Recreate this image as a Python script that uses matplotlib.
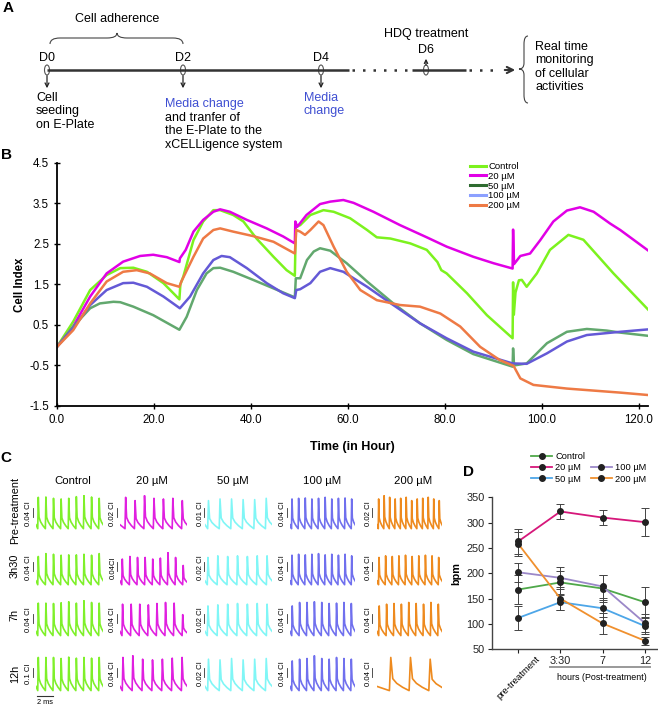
import matplotlib
matplotlib.use('Agg')
import matplotlib.pyplot as plt
from matplotlib.lines import Line2D
from matplotlib.patches import Ellipse, PathPatch
from matplotlib.path import Path

plt.rcParams['font.family'] = ['Liberation Sans', 'DejaVu Sans']

W, H = 658, 708

# ---------------- B: cell index (xCELLigence) ----------------
ctrl_h = [0, 3.4, 6.9, 10.3, 13.1, 15.8, 18.6, 22.0, 25.3, 25.5, 26.1, 28.2, 30.2, 32.3, 33.7, 36.4, 38.5,
          41.2, 44.7, 47.4, 49.1, 49.3, 50.2, 52.3, 55.0, 57.1, 60.5, 64.0, 66.0, 68.8, 72.9, 76.3, 78.5,
          79.3, 80.4, 84.6, 88.7, 94.0, 94.1, 94.25, 94.6, 95.3, 95.9, 96.9, 99.0, 101.7, 105.5, 108.6,
          114.8, 122.0]
ctrl_ci = [-0.05, 0.58, 1.36, 1.73, 1.9, 1.91, 1.81, 1.53, 1.13, 1.5, 1.69, 2.59, 3.05, 3.33, 3.33, 3.21, 3.05,
           2.63, 2.18, 1.85, 1.71, 2.92, 2.96, 3.21, 3.33, 3.29, 3.13, 2.84, 2.66, 2.63, 2.51, 2.35, 2.05,
           1.85, 1.77, 1.28, 0.74, 0.17, 1.55, 0.75, 1.3, 1.6, 1.61, 1.44, 1.77, 2.35, 2.72, 2.6,
           1.77, 0.87]

m20_h = [0, 3.4, 6.9, 10.3, 13.7, 17.2, 19.9, 22.7, 25.3, 25.4, 26.6, 28.2, 30.2, 32.3, 33.7, 35.7, 39.2,
         43.3, 46.7, 49.1, 49.2, 49.6, 51.5, 54.3, 56.4, 59.1, 61.2, 65.3, 70.8, 76.3, 80.4, 85.9, 90.1,
         94.0, 94.1, 94.3, 95.6, 97.6, 99.7, 102.4, 105.2, 107.9, 110.7, 114.1, 116.2, 122.0]
m20_ci = [-0.05, 0.46, 1.2, 1.77, 2.06, 2.2, 2.23, 2.17, 2.05, 2.14, 2.35, 2.8, 3.09, 3.29, 3.35, 3.29, 3.09,
          2.88, 2.68, 2.51, 3.05, 2.92, 3.21, 3.48, 3.54, 3.58, 3.51, 3.29, 2.96, 2.66, 2.43, 2.18, 2.02,
          1.89, 2.85, 2.0, 2.2, 2.26, 2.59, 3.05, 3.32, 3.4, 3.29, 3.0, 2.84, 2.33]

m50_h = [0, 3.4, 6.9, 8.9, 11.7, 13.1, 15.8, 19.9, 25.3, 26.8, 28.9, 30.9, 32.3, 33.7, 36.4, 40.5, 44.7,
         49.1, 49.3, 50.2, 51.6, 53.0, 54.3, 56.4, 59.8, 64.0, 69.4, 74.9, 80.4, 85.9, 94.0, 94.1, 94.3,
         96.9, 101.1, 105.2, 109.3, 113.4, 116.2, 122.0]
m50_ci = [-0.05, 0.46, 0.91, 1.03, 1.07, 1.06, 0.95, 0.74, 0.38, 0.7, 1.36, 1.77, 1.9, 1.91, 1.81, 1.61, 1.4,
          1.18, 1.65, 1.65, 2.1, 2.31, 2.39, 2.33, 2.02, 1.57, 1.03, 0.54, 0.13, -0.22, -0.53, -0.08, -0.5,
          -0.45, 0.05, 0.33, 0.4, 0.36, 0.31, 0.23]

m100_h = [0, 3.4, 6.9, 10.3, 13.7, 15.8, 18.6, 22.0, 25.4, 27.5, 30.2, 32.3, 34.0, 35.7, 39.2, 43.3, 46.7,
          49.1, 49.4, 50.2, 52.3, 54.3, 56.4, 59.1, 64.0, 69.4, 74.9, 80.4, 85.9, 94.0, 96.9, 101.1,
          105.2, 109.3, 116.2, 122.0]
m100_ci = [-0.05, 0.42, 0.99, 1.36, 1.53, 1.54, 1.44, 1.2, 0.91, 1.2, 1.77, 2.1, 2.2, 2.17, 1.9, 1.53, 1.28,
           1.16, 1.36, 1.38, 1.53, 1.81, 1.9, 1.81, 1.44, 0.99, 0.54, 0.17, -0.16, -0.45, -0.46, -0.2,
           0.09, 0.25, 0.33, 0.39]

m200_h = [0, 3.4, 6.9, 10.3, 13.7, 16.5, 19.2, 22.7, 25.3, 25.7, 28.2, 30.2, 32.3, 33.7, 36.4, 40.5, 44.7,
          49.1, 49.4, 50.2, 51.2, 52.3, 54.0, 55.0, 57.1, 59.8, 62.6, 66.0, 70.8, 74.9, 79.1, 83.2, 87.3,
          91.4, 94.2, 95.6, 98.3, 105.2, 116.2, 122.0]
m200_ci = [-0.05, 0.37, 1.03, 1.57, 1.81, 1.85, 1.77, 1.53, 1.44, 1.57, 2.18, 2.63, 2.84, 2.88, 2.8, 2.69, 2.55,
           2.26, 2.84, 2.8, 2.72, 2.84, 3.05, 2.96, 2.43, 1.81, 1.36, 1.11, 0.99, 0.95, 0.78, 0.46, -0.04,
           -0.37, -0.51, -0.82, -0.98, -1.07, -1.17, -1.23]

b_names = ['Control', '20 µM', '50 µM', '100 µM', '200 µM']
b_colors = ['#7cf21e', '#e100e6', '#62a86e', '#6459d6', '#ee7a45']
b_legend_colors = ['#7cf21e', '#e100e6', '#2e6b30', '#8ca0ff', '#ee7a45']

# ---------------- C: beating traces (relative peak height of each beat) ----------------
c_cols = ['Control', '20 µM', '50 µM', '100 µM', '200 µM']
c_rows = ['Pre-treatment', '3h30', '7h', '12h']
c_colors = ['#7ff02a', '#e020e0', '#80f6f6', '#7070ee', '#ee8a1e']
c_scale = [['0.04 CI', '0.04 CI', '0.04 CI', '0.1 CI'],
           ['0.02 CI', '0.04CI', '0.04 CI', '0.04 CI'],
           ['0.01 CI', '0.02 CI', '0.02 CI', '0.02 CI'],
           ['0.04 CI', '0.04 CI', '0.04 CI', '0.04 CI'],
           ['0.02 CI', '0.04 CI', '0.04 CI', '0.04 CI']]
c_peaks = [
    [[0.95, 0.96, 0.92, 0.9, 0.92, 0.97, 1.0, 0.96, 0.92],
     [0.88, 0.97, 0.95, 0.92, 0.93, 0.93, 0.95, 0.92, 0.97],
     [0.93, 0.93, 0.92, 0.94, 0.97, 0.93, 1.0, 0.95, 0.93],
     [0.95, 0.95, 0.95, 0.92, 0.96, 0.93, 0.95, 0.93, 0.95]],
    [[0.95, 0.85, 1.0, 0.92, 0.9, 0.92, 0.85],
     [0.8, 0.88, 0.85, 0.85, 0.8, 0.83, 1.0, 0.85, 0.6],
     [0.9, 0.9, 0.9, 0.88, 0.92, 0.95, 0.93, 0.6],
     [0.95, 1.0, 0.9, 0.88, 0.9, 0.93, 0.95]],
    [[0.85, 0.9, 0.9, 0.88, 0.88, 0.92],
     [0.85, 0.9, 0.88, 0.9, 0.88, 0.9, 0.9],
     [0.85, 0.88, 0.9, 0.92, 0.9, 0.92, 0.9],
     [0.9, 0.88, 0.92, 0.88, 0.9, 0.92]],
    [[0.9, 0.92, 0.93, 0.9, 0.92, 0.95, 0.9, 0.92, 0.93, 0.9],
     [0.92, 0.95, 0.93, 0.95, 0.97, 0.93, 0.95, 0.92, 0.95, 0.9],
     [0.85, 0.95, 0.95, 0.97, 0.95, 0.92, 0.93, 0.95, 0.92],
     [0.85, 0.9, 0.92, 1.0, 0.92, 0.9, 0.95, 0.92, 0.9]],
    [[0.9, 1.0, 0.95, 0.9, 0.92, 0.95, 0.85, 0.9, 0.92, 0.95, 0.9, 0.85],
     [0.85, 0.9, 0.88, 0.9, 0.92, 0.88, 0.9, 0.92, 0.9, 0.85],
     [0.85, 0.9, 0.92, 0.9, 0.95, 0.92, 0.9, 0.95, 0.9],
     [0.95, 0.95, 0.9]],
]

# ---------------- D: beating rate ----------------
d_times = ['pre-treatment', '3:30', '7', '12']
d_ctrl = [168, 182, 170, 143]
d_ctrl_err = [28, 22, 26, 30]
d_20 = [263, 322, 310, 301]
d_20_err = [24, 14, 15, 27]
d_50 = [112, 143, 131, 96]
d_50_err = [23, 15, 17, 16]
d_100 = [202, 191, 174, 102]
d_100_err = [19, 22, 22, 18]
d_200 = [258, 150, 101, 67]
d_200_err = [24, 22, 21, 8]
d_colors = ['#4fa84a', '#d6177a', '#4da6e8', '#9b88c8', '#f0902e']


def px_rect(x0, y0, x1, y1):
    return [x0 / W, 1 - y1 / H, (x1 - x0) / W, (y1 - y0) / H]


fig = plt.figure(figsize=(W / 100, H / 100), dpi=100)

# overlay in pixel coordinates for the diagram and labels
ov = fig.add_axes([0, 0, 1, 1])
ov.set_xlim(0, W)
ov.set_ylim(H, 0)
ov.axis('off')

# ---------------- A: timeline ----------------
tl_y = 70
line_c = '#333333'
ov.plot([47, 349], [tl_y, tl_y], color=line_c, lw=1.8, solid_capstyle='butt')
ov.plot([352, 410], [tl_y, tl_y], color=line_c, lw=1.8, ls=(0, (1, 3.2)))
ov.plot([412, 466], [tl_y, tl_y], color=line_c, lw=1.8, solid_capstyle='butt')
ov.plot([469, 500], [tl_y, tl_y], color=line_c, lw=1.8, ls=(0, (1, 3.2)))
ov.annotate('', xy=(518, tl_y), xytext=(502, tl_y),
            arrowprops=dict(arrowstyle='->', color=line_c, lw=1.5, mutation_scale=11))

days = ['D0', 'D2', 'D4', 'D6']
day_x = [47, 183, 321, 426]
for d, x in zip(days, day_x):
    ov.add_patch(Ellipse((x, tl_y), 5, 10, fill=False, ec='#555555', lw=0.8))
    if d == 'D6':
        ov.text(x, 50, d, ha='center', va='center', fontsize=9)
        ov.annotate('', xy=(x, 56), xytext=(x, 68),
                    arrowprops=dict(arrowstyle='->', color='#222222', lw=0.9, mutation_scale=6))
    else:
        ov.text(x, 58, d, ha='center', va='center', fontsize=9)
        ov.annotate('', xy=(x, 91), xytext=(x, 73),
                    arrowprops=dict(arrowstyle='->', color='#222222', lw=0.9, mutation_scale=7))

# top brace
bx0, bx1, bxm = 50, 183, 117
verts = [(bx0, 44), (bx0, 38), (bx0 + 10, 38), (bxm - 10, 38), (bxm, 38), (bxm, 33),
         (bxm, 38), (bxm + 10, 38), (bx1 - 10, 38), (bx1, 38), (bx1, 44)]
codes = [Path.MOVETO, Path.CURVE3, Path.CURVE3, Path.LINETO, Path.CURVE3, Path.CURVE3,
         Path.CURVE3, Path.CURVE3, Path.LINETO, Path.CURVE3, Path.CURVE3]
ov.add_patch(PathPatch(Path(verts, codes), fill=False, ec='#444444', lw=0.8))
ov.text(bxm, 19, 'Cell adherence', ha='center', va='center', fontsize=9)

# right brace
ry0, ry1, rym = 36, 103, 69
verts = [(528, ry0), (524, ry0), (524, ry0 + 8), (524, rym - 6), (524, rym), (519, rym),
         (524, rym), (524, rym + 6), (524, ry1 - 8), (524, ry1), (528, ry1)]
ov.add_patch(PathPatch(Path(verts, codes), fill=False, ec='#444444', lw=0.8))

ov.text(426, 34, 'HDQ treatment', ha='center', va='center', fontsize=9)
ov.text(535, 41, 'Real time\nmonitoring\nof cellular\nactivities', ha='left', va='top',
        fontsize=9, linespacing=1.15)
ov.text(36, 92, 'Cell\nseeding\non E-Plate', ha='left', va='top', fontsize=9, linespacing=1.15)
blue = '#3f4fd2'
ov.text(165, 98, 'Media change', ha='left', va='top', fontsize=9, color=blue)
ov.text(165, 112, 'and tranfer of\nthe E-Plate to the\nxCELLigence system', ha='left', va='top',
        fontsize=9, linespacing=1.15)
ov.text(304, 92, 'Media\nchange', ha='left', va='top', fontsize=9, color=blue, linespacing=1.15)

# panel letters
for lab, x, y in [('A', 8, 8), ('B', 7, 155), ('C', 6, 458), ('D', 468, 472)]:
    ov.text(x, y, lab, ha='center', va='center', fontsize=11, fontweight='bold')

# ---------------- B ----------------
axb = fig.add_axes(px_rect(56.7, 162.7, 648.4, 406))
axb.set_facecolor('none')
series = [(ctrl_h, ctrl_ci), (m20_h, m20_ci), (m50_h, m50_ci), (m100_h, m100_ci), (m200_h, m200_ci)]
for (hh, cc), col in zip(series, b_colors):
    axb.plot(hh, cc, color=col, lw=1.8)
axb.set_xlim(0, 122)
axb.set_ylim(-1.5, 4.5)
axb.set_xticks(range(0, 121, 20))
axb.set_xticklabels(['%.1f' % v for v in range(0, 121, 20)])
axb.set_yticks([-1.5, -0.5, 0.5, 1.5, 2.5, 3.5, 4.5])
axb.set_yticklabels(['-1.5', '-0.5', '0.5', '1.5', '2.5', '3.5', '4.5'])
axb.tick_params(direction='inout', length=5, width=1, labelsize=8.3, pad=3)
for s in ['top', 'right']:
    axb.spines[s].set_visible(False)
for s in ['left', 'bottom']:
    axb.spines[s].set_linewidth(1.3)
axb.set_xlabel('Time (in Hour)', fontsize=9, fontweight='bold', labelpad=11)
axb.set_ylabel('Cell Index', fontsize=8.3, fontweight='bold', labelpad=2)
b_handles = [Line2D([], [], color=c, lw=2.2) for c in b_legend_colors]
fig.legend(b_handles, b_names, loc='upper left', bbox_to_anchor=(470 / W, 1 - 162 / H),
           frameon=False, fontsize=6.8, handlelength=1.7, handletextpad=0.25,
           labelspacing=0.08, borderpad=0, borderaxespad=0)

# ---------------- C ----------------
col_x = [(36, 103), (120, 187), (205, 272), (290, 355), (377, 442)]
row_y = [(495, 530), (552, 586), (600, 637), (655, 692)]
head_x = [73, 152, 233, 322, 413]
scale_x = [29, 113, 200, 283, 368]
row_lab_y = [510, 566, 615, 674]
scale_y = [514, 568, 620, 674]
shape_t = [-0.07, 0.0, 0.1, 0.3, 0.6, 0.93]
shape_v = [0.0, 1.0, 0.36, 0.22, 0.1, 0.0]

for ci in range(5):
    ov.text(head_x[ci], 481, c_cols[ci], ha='center', va='center', fontsize=8.2)
    for ri in range(4):
        peaks = c_peaks[ci][ri]
        lead, tail = 0.3, 0.5
        if ci == 4 and ri == 3:
            lead, tail = 0.7, 0.6
        if ci == 1 and ri == 0:
            lead = 0.6
        t, v = [0.0], [0.12]
        for i, hgt in enumerate(peaks):
            for dt, dv in zip(shape_t, shape_v):
                t.append(lead + i + dt)
                v.append(hgt * dv)
        axc = fig.add_axes(px_rect(col_x[ci][0], row_y[ri][0], col_x[ci][1], row_y[ri][1]))
        axc.plot(t, v, color=c_colors[ci], lw=1.2)
        axc.set_xlim(0, lead + len(peaks) - 1 + tail)
        axc.set_ylim(-0.04, 1.02)
        axc.axis('off')
        # scale bar label
        ov.text(scale_x[ci], scale_y[ri], c_scale[ci][ri], rotation=90, ha='center', va='center',
                fontsize=5.6)
        ov.plot([scale_x[ci] + 3.5] * 2, [scale_y[ri] - 6, scale_y[ri] + 3], color='#333333', lw=0.6)

for ri in range(4):
    ov.text(15, row_lab_y[ri], c_rows[ri], rotation=90, ha='center', va='center', fontsize=7.8)

ov.plot([37, 53], [696, 696], color='#333333', lw=0.8)
ov.text(45, 703, '2 ms', ha='center', va='center', fontsize=5.3)

# ---------------- D ----------------
axd = fig.add_axes(px_rect(491.7, 497.3, 657, 649.3))
axd.set_facecolor('none')
xs = list(range(len(d_times)))
d_series = [(d_ctrl, d_ctrl_err), (d_20, d_20_err), (d_50, d_50_err), (d_100, d_100_err), (d_200, d_200_err)]
for (vals, errs), col in zip(d_series, d_colors):
    axd.errorbar(xs, vals, yerr=errs, fmt='none', ecolor='#444444', elinewidth=0.7, capsize=3,
                 capthick=0.7, zorder=2)
    axd.plot(xs, vals, color=col, lw=1.3, marker='o', ms=4, mfc='#222222', mec='#222222', zorder=3)
axd.set_xlim(-0.63, 3.29)
axd.set_ylim(50, 350)
axd.set_yticks(range(50, 351, 50))
axd.set_xticks(xs)
axd.set_xticklabels([''] + d_times[1:])
axd.tick_params(labelsize=7.8, length=3, width=0.8, pad=2, colors='#222222')
for s in ['top', 'right']:
    axd.spines[s].set_visible(False)
for s in ['left', 'bottom']:
    axd.spines[s].set_linewidth(1.0)
    axd.spines[s].set_color('#444444')
axd.set_ylabel('bpm', fontsize=7.8, fontweight='bold', labelpad=4)
axd.annotate(d_times[0], xy=(0, 0), xycoords=('data', 'axes fraction'), xytext=(17, -5),
             textcoords='offset pixels', rotation=45, rotation_mode='anchor', ha='right', va='top',
             fontsize=6.8)
ov.plot([550, 650], [667, 667], color='#999999', lw=1.4)
ov.text(602, 677, 'hours (Post-treatment)', ha='center', va='center', fontsize=6.4)

d_names = ['Control', '20 µM', '50 µM', '', '100 µM', '200 µM']
d_cols_leg = [d_colors[0], d_colors[1], d_colors[2], 'none', d_colors[3], d_colors[4]]
d_handles = []
for c, n in zip(d_cols_leg, d_names):
    if n:
        d_handles.append(Line2D([], [], color=c, lw=1.3, marker='o', ms=4, mfc='#222222', mec='#222222'))
    else:
        d_handles.append(Line2D([], [], color='none'))
fig.legend(d_handles, d_names, loc='upper left', bbox_to_anchor=(531 / W, 1 - 452 / H), ncol=2,
           frameon=False, fontsize=6.7, handlelength=2.3, handletextpad=0.3, columnspacing=0.6,
           labelspacing=0.25, borderpad=0, borderaxespad=0)

fig.savefig('out.png', dpi=100)
